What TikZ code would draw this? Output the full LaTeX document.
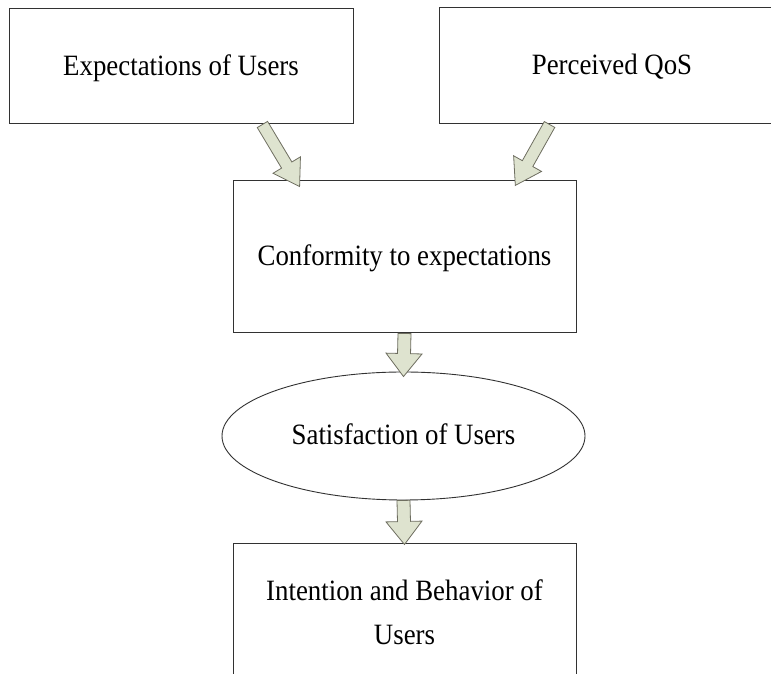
\documentclass[tikz,border=0pt]{standalone}
\usepackage{fontspec}
\usepackage{graphicx}
\setmainfont{Liberation Serif}
\usetikzlibrary{calc,shapes.geometric}
\definecolor{arrfill}{RGB}{222,227,207}
\definecolor{arrline}{RGB}{110,110,96}
\definecolor{boxline}{RGB}{50,50,50}
\newcommand\tx[1]{\scalebox{0.91}[1]{\begin{tabular}{@{}c@{}}#1\end{tabular}}}
\tikzset{
  boxnode/.style={draw=boxline, line width=1pt, rectangle, inner sep=0pt,
    font=\fontsize{29.5}{44}\selectfont, align=center},
  ellnode/.style={draw=boxline, line width=0.9pt, ellipse, inner sep=0pt,
    font=\fontsize{29.5}{44}\selectfont},
  blockarr/.style={draw=arrline, fill=arrfill, line width=0.8pt, line join=miter}
}
\newcommand\blockarrow[5]{% start, end, shaft half width, head half width, head length
  \path[blockarr] let \p1=#1, \p2=#2,
    \n1={atan2(\y2-\y1,\x2-\x1)}, \n2={veclen(\x2-\x1,\y2-\y1)} in
    ([shift={(\p1)},rotate=\n1]0,-#3)
    -- ([shift={(\p1)},rotate=\n1]\n2-#5,-#3)
    -- ([shift={(\p1)},rotate=\n1]\n2-#5,-#4)
    -- ([shift={(\p1)},rotate=\n1]\n2,0)
    -- ([shift={(\p1)},rotate=\n1]\n2-#5,#4)
    -- ([shift={(\p1)},rotate=\n1]\n2-#5,#3)
    -- ([shift={(\p1)},rotate=\n1]0,#3) -- cycle;}
\begin{document}
\begin{tikzpicture}[x=1pt,y=1pt]
\useasboundingbox (0,0) rectangle (771,674);
\fill[white] (0,0) rectangle (771,674);
\clip (0,0) rectangle (771,674);
\node[boxnode, minimum width=344, minimum height=115] (e) at (181,607.5) {\tx{Expectations of Users}};
\node[boxnode, minimum width=346, minimum height=116] (p) at (612,608) {\tx{Perceived QoS}};
\node[boxnode, minimum width=343, minimum height=152] (c) at (404.5,417) {\tx{Conformity to expectations}};
\node[ellnode, minimum width=363, minimum height=128] (s) at (403.5,238) {\tx{Satisfaction of Users}};
\node[boxnode, minimum width=343, minimum height=140] (b) at (404.5,60) {\tx{Intention and Behavior of\\Users}};
\blockarrow{($(e.south west)!0.736!(e.south east)$)}{($(c.north west)!0.195!(c.north east)+(0,-6)$)}{6}{16}{25}
\blockarrow{($(p.south west)!0.32!(p.south east)$)}{($(c.north west)!0.822!(c.north east)+(0,-5)$)}{6}{16}{25}
\blockarrow{(c.south)}{($(s.north)+(0,-5)$)}{6.5}{18}{23}
\blockarrow{(s.south)}{($(b.north)+(0,-1)$)}{6.5}{18}{23}
\end{tikzpicture}
\end{document}
